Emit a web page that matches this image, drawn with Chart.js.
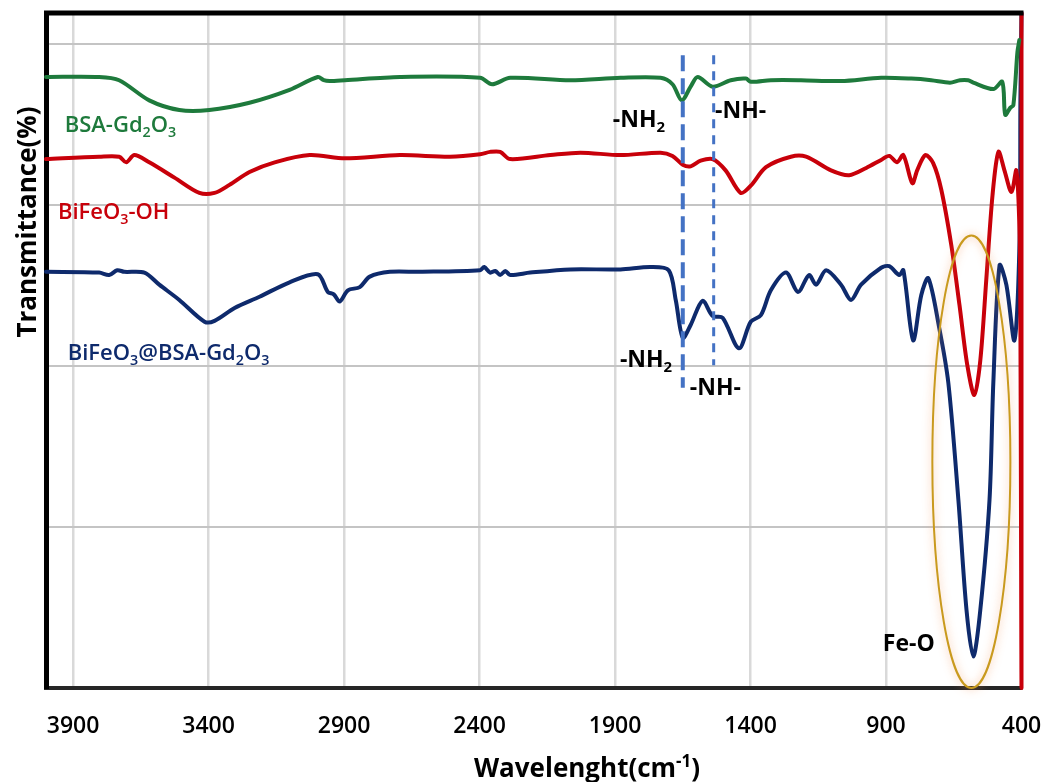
<!DOCTYPE html>
<html>
<head>
<meta charset="utf-8">
<script src="https://cdn.jsdelivr.net/npm/chart.js@4.4.1/dist/chart.umd.min.js"></script>
<style>
  html, body { margin: 0; padding: 0; background: #fff; }
  #wrap { width: 1044px; height: 782px; position: relative; }
</style>
</head>
<body>
<div id="wrap"><canvas id="ftir"></canvas></div>
<script>
// x: wavenumber (cm-1), y: transmittance (arbitrary %, stacked offsets as in the figure)
const xTicks = [3900, 3400, 2900, 2400, 1900, 1400, 900, 400];
const yGrid = [0, 20, 40, 60, 80];

const greenWn = [4000, 3804, 3730, 3619, 3508, 3397, 3249, 3101, 2997, 2975, 2953, 2897, 2694, 2398, 2354, 2287, 2065, 1880, 1732, 1688, 1654, 1621, 1595, 1540, 1473, 1417, 1399, 1325, 1214, 1066, 918, 807, 733, 664, 627, 597, 578, 504, 471, 460, 441, 430, 415, 408];
const greenT = [75.9, 75.9, 75.5, 73.0, 71.8, 71.8, 72.7, 74.3, 75.9, 75.5, 75.4, 75.5, 75.9, 75.8, 75.0, 75.8, 75.5, 75.8, 75.8, 75.0, 73.0, 74.7, 75.9, 74.7, 75.5, 75.7, 75.3, 75.5, 75.5, 75.4, 75.8, 75.7, 75.5, 75.2, 75.5, 75.5, 75.2, 74.4, 75.3, 71.2, 72.1, 72.4, 79.0, 80.5];

const redWn = [4000, 3804, 3730, 3704, 3674, 3619, 3526, 3434, 3378, 3323, 3249, 3156, 3027, 2897, 2694, 2509, 2398, 2361, 2324, 2287, 2139, 2028, 1880, 1732, 1688, 1650, 1621, 1584, 1540, 1492, 1436, 1399, 1343, 1251, 1195, 1103, 1036, 973, 918, 888, 859, 836, 803, 785, 755, 726, 696, 659, 629, 600, 574, 552, 530, 507, 485, 463, 437, 419, 407, 404, 400, 400];
const redT = [65.7, 66.0, 66.0, 65.3, 66.2, 65.3, 63.4, 61.5, 61.5, 62.5, 64.1, 65.3, 66.2, 65.8, 66.2, 66.0, 66.3, 66.6, 66.6, 65.7, 66.2, 66.5, 66.2, 66.5, 66.1, 65.0, 64.8, 65.5, 65.7, 64.3, 61.5, 62.4, 64.7, 66.0, 66.0, 64.3, 63.7, 64.6, 65.6, 66.1, 65.3, 66.2, 62.7, 64.3, 66.2, 65.2, 61.9, 55.0, 47.6, 40.1, 36.4, 40.7, 50.7, 61.2, 66.6, 64.3, 61.6, 64.3, 56.3, 44.5, 0, 83.85];

const blueWn = [4000, 3804, 3767, 3737, 3711, 3637, 3582, 3508, 3415, 3378, 3304, 3212, 3101, 2997, 2960, 2938, 2916, 2886, 2842, 2805, 2731, 2620, 2398, 2383, 2361, 2342, 2324, 2305, 2287, 2213, 2065, 1880, 1769, 1702, 1676, 1650, 1621, 1577, 1540, 1503, 1443, 1399, 1362, 1325, 1269, 1225, 1184, 1158, 1121, 1066, 1029, 992, 918, 888, 851, 836, 800, 770, 744, 704, 670, 633, 603, 578, 552, 518, 504, 481, 456, 426, 407, 404, 400];
const blueT = [51.7, 51.6, 51.3, 51.9, 51.7, 51.6, 50.1, 48.2, 45.5, 45.6, 47.2, 48.6, 50.4, 51.4, 49.2, 48.9, 48.0, 49.4, 49.8, 51.1, 51.7, 51.7, 51.9, 52.3, 51.6, 51.8, 51.3, 51.8, 51.3, 51.6, 52.0, 52.0, 52.3, 51.9, 48.2, 43.5, 45.1, 48.1, 46.2, 46.0, 42.2, 45.5, 46.3, 49.4, 51.6, 49.2, 51.3, 50.1, 51.9, 50.1, 48.2, 50.1, 52.2, 52.4, 51.3, 51.9, 43.2, 48.8, 50.9, 44.8, 37.9, 23.4, 9.7, 3.9, 9.7, 23.4, 37.9, 52.5, 50.1, 43.2, 55.7, 73.0, 83.85];

// series names, "_{}" = subscript, "^{}" = superscript
const seriesNames = ["BSA-Gd_{2}O_{3}", "BiFeO_{3}-OH", "BiFeO_{3}@BSA-Gd_{2}O_{3}"];
const seriesColors = ["#1E7A3C", "#C8000A", "#0E2A6C"];
const xTitle = "Wavelenght(cm^{-1})";
const yTitle = "Transmittance(%)";

// text annotations: [text, wavenumber, transmittance at baseline, colour, weight, size]
const notes = [
  [seriesNames[0], 3931, 69.1, seriesColors[0], 600, 22],
  [seriesNames[1], 3956, 58.3, seriesColors[1], 600, 22],
  [seriesNames[2], 3920, 40.7, seriesColors[2], 600, 22],
  ["-NH_{2}", 1908, 69.7, "#000", 700, 23],
  ["-NH-", 1531, 70.8, "#000", 700, 23],
  ["-NH_{2}", 1882, 39.9, "#000", 700, 23],
  ["-NH-", 1624, 36.4, "#000", 700, 23],
  ["Fe-O", 912, 4.6, "#000", 700, 23]
];
// dashed markers: [wavenumber, from T, to T, width, dash]
const markers = [
  [1650, 78.6, 37.3, 4, [16, 7]],
  [1536, 78.6, 40.1, 3, [9, 7]]
];
// Fe-O ellipse: centre wn, centre T, half-width wn, half-height T
const feO = [585, 28.1, 144, 28.1];

const FONT = "'Open Sans', 'Liberation Sans', sans-serif";

function pts(xs, ys) {
  return xs.map((x, i) => ({ x: x, y: ys[i] }));
}

function drawRich(ctx, str, x, y, size, weight, color) {
  const parts = str.match(/_\{[^}]*\}|\^\{[^}]*\}|[^_^]+/g);
  ctx.fillStyle = color;
  ctx.textBaseline = "alphabetic";
  ctx.textAlign = "left";
  let cx = x;
  parts.forEach((p) => {
    let t = p, s = size, dy = 0;
    if (p[0] === "_") { t = p.slice(2, -1); s = size * 0.65; dy = size * 0.22; }
    if (p[0] === "^") { t = p.slice(2, -1); s = size * 0.65; dy = -size * 0.38; }
    ctx.font = weight + " " + s + "px " + FONT;
    ctx.fillText(t, cx, y + dy);
    cx += ctx.measureText(t).width;
  });
  return cx - x;
}

function richWidth(ctx, str, size, weight) {
  const parts = str.match(/_\{[^}]*\}|\^\{[^}]*\}|[^_^]+/g);
  let w = 0;
  parts.forEach((p) => {
    let t = p, s = size;
    if (p[0] === "_" || p[0] === "^") { t = p.slice(2, -1); s = size * 0.65; }
    ctx.font = weight + " " + s + "px " + FONT;
    w += ctx.measureText(t).width;
  });
  return w;
}

const extras = {
  id: "extras",
  afterDatasetsDraw(chart) {
    const ctx = chart.ctx;
    const xs = chart.scales.x, ys = chart.scales.y;
    const area = chart.chartArea;

    // dashed -NH2 / -NH- markers
    ctx.save();
    ctx.strokeStyle = "#4472C4";
    markers.forEach((m) => {
      const px = xs.getPixelForValue(m[0]);
      ctx.lineWidth = m[3];
      ctx.setLineDash(m[4]);
      ctx.beginPath();
      ctx.moveTo(px, ys.getPixelForValue(m[1]));
      ctx.lineTo(px, ys.getPixelForValue(m[2]));
      ctx.stroke();
    });
    ctx.restore();

    // Fe-O ellipse
    const cx = xs.getPixelForValue(feO[0]);
    const cy = ys.getPixelForValue(feO[1]);
    const rx = Math.abs(xs.getPixelForValue(feO[0] - feO[2]) - cx);
    const ry = Math.abs(ys.getPixelForValue(feO[1] + feO[3]) - cy);
    ctx.save();
    ctx.shadowColor = "rgba(245,150,90,0.7)";
    ctx.shadowBlur = 9;
    ctx.strokeStyle = "#C99A1E";
    ctx.lineWidth = 2;
    ctx.beginPath();
    ctx.ellipse(cx, cy, rx, ry, 0, 0, Math.PI * 2);
    ctx.stroke();
    ctx.restore();

    // frame top line
    ctx.save();
    ctx.strokeStyle = "#000";
    ctx.lineWidth = 5;
    ctx.beginPath();
    ctx.moveTo(area.left - 2, area.top);
    ctx.lineTo(area.right + 2, area.top);
    ctx.stroke();
    ctx.restore();

    // labels
    ctx.save();
    notes.forEach((n) => {
      drawRich(ctx, n[0], xs.getPixelForValue(n[1]), ys.getPixelForValue(n[2]), n[5], n[4], n[3]);
    });
    ctx.restore();

    // axis titles
    ctx.save();
    const tw = richWidth(ctx, xTitle, 26, 700);
    drawRich(ctx, xTitle, 587 - tw / 2, 777, 26, 700, "#000");
    ctx.translate(36, 222);
    ctx.rotate(-Math.PI / 2);
    const yw = richWidth(ctx, yTitle, 26, 700);
    drawRich(ctx, yTitle, -yw / 2, 0, 26, 700, "#000");
    ctx.restore();
  }
};

const chartftir = function () {
  const el = document.getElementById("ftir");
  new Chart(el, {
    type: "scatter",
    data: {
      datasets: [
        { label: "BSA-Gd2O3", data: pts(greenWn, greenT), borderColor: seriesColors[0] },
        { label: "BiFeO3-OH", data: pts(redWn, redT), borderColor: seriesColors[1] },
        { label: "BiFeO3@BSA-Gd2O3", data: pts(blueWn, blueT), borderColor: seriesColors[2] }
      ].map((d) => Object.assign(d, {
        showLine: true,
        pointRadius: 0,
        borderWidth: 4,
        tension: 0.3,
        clip: false,
        borderCapStyle: "round",
        borderJoinStyle: "round"
      }))
    },
    options: {
      responsive: true,
      maintainAspectRatio: false,
      animation: false,
      layout: { padding: { top: 13, right: 22.5, left: 0, bottom: 0 } },
      plugins: { legend: { display: false }, tooltip: { enabled: false } },
      scales: {
        x: {
          type: "linear",
          reverse: true,
          min: 400,
          max: 4000,
          afterBuildTicks: (s) => { s.ticks = xTicks.map((v) => ({ value: v })); },
          // fixed height; drop the side padding chart.js reserves for the end labels
          afterFit: (s) => { s.height = 94; s.paddingLeft = 0; s.paddingRight = 0; },
          grid: { color: "#D9D9D9", lineWidth: 2.5, drawTicks: false },
          border: { color: "#262626", width: 4 },
          ticks: {
            color: "#000",
            padding: 25,
            maxRotation: 0,
            font: { family: FONT, size: 23, weight: "600" },
            callback: (v) => String(v)
          }
        },
        y: {
          min: 0,
          max: 83.85,
          afterBuildTicks: (s) => { s.ticks = yGrid.map((v) => ({ value: v })); },
          afterFit: (s) => { s.width = 46; },
          grid: { color: "#C4C4C4", lineWidth: 2, drawTicks: false },
          border: { color: "#000", width: 5 },
          ticks: { display: false }
        }
      }
    },
    plugins: [extras]
  });
};

chartftir();
</script>
</body>
</html>
